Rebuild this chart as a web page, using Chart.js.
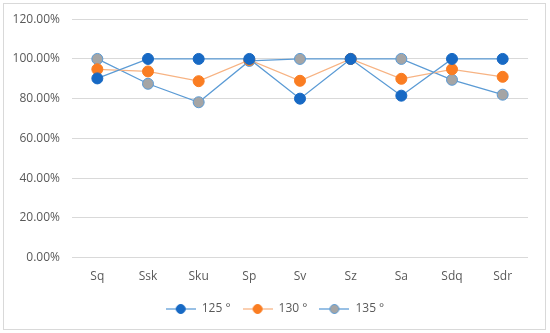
<!DOCTYPE html>
<html>
<head>
<meta charset="utf-8">
<script src="https://cdn.jsdelivr.net/npm/chart.js@4/dist/chart.umd.min.js"></script>
<style>
  html, body { margin: 0; padding: 0; background: #fff; }
  #wrap { width: 550px; height: 333px; }
</style>
</head>
<body>
<div id="wrap"><canvas id="chartAngles"></canvas></div>
<script>
// ── 数据 ──
const categories = ['Sq', 'Ssk', 'Sku', 'Sp', 'Sv', 'Sz', 'Sa', 'Sdq', 'Sdr'];
const seriesNames = ['125 °', '130 °', '135 °'];
const values125 = [0.902, 1.0, 1.0, 1.0, 0.80, 1.0, 0.815, 1.0, 1.0];
const values130 = [0.948, 0.937, 0.888, 0.995, 0.89, 1.0, 0.90, 0.948, 0.91];
const values135 = [1.0, 0.875, 0.782, 0.99, 1.0, 1.0, 1.0, 0.895, 0.82];
const yTicks = [0, 0.2, 0.4, 0.6, 0.8, 1.0, 1.2];

const COLORS = {
  blueLine: '#5B9BD5',
  blueDot: '#1769C4',
  orangeLine: '#F7B383',
  orangeDot: '#FA7D22',
  grayDot: '#A5A5A5',
  grid: '#D9D9D9',
  text: '#595959',
};

// legend swatch: short line with a marker in the middle
function legendSwatch(lineColor, fill, border) {
  const c = document.createElement('canvas');
  c.width = 30; c.height = 12;
  const g = c.getContext('2d');
  g.strokeStyle = lineColor;
  g.lineWidth = 1.25;
  g.beginPath(); g.moveTo(0, 6); g.lineTo(30, 6); g.stroke();
  g.fillStyle = fill;
  g.strokeStyle = border;
  g.lineWidth = 1;
  g.beginPath(); g.arc(15, 6, 4.5, 0, Math.PI * 2); g.fill(); g.stroke();
  return c;
}

const swatches = [
  legendSwatch(COLORS.blueLine, COLORS.blueDot, COLORS.blueDot),
  legendSwatch(COLORS.orangeLine, COLORS.orangeDot, COLORS.orangeDot),
  legendSwatch(COLORS.blueLine, COLORS.grayDot, COLORS.blueLine),
];

// outer frame of the chart
const framePlugin = {
  id: 'frame',
  beforeDraw(chart) {
    const ctx = chart.ctx;
    ctx.save();
    ctx.fillStyle = '#fff';
    ctx.fillRect(0, 0, chart.width, chart.height);
    ctx.strokeStyle = COLORS.grid;
    ctx.lineWidth = 1;
    ctx.strokeRect(3.5, 3.5, 542, 326);
    ctx.restore();
  },
};

function seriesDataset(label, data, line, dot, dotBorder) {
  return {
    label,
    data,
    borderColor: line,
    borderWidth: 1.25,
    backgroundColor: dot,
    pointBackgroundColor: dot,
    pointBorderColor: dotBorder,
    pointBorderWidth: 1,
    pointRadius: 5.5,
    pointHoverRadius: 5.5,
    tension: 0,
    fill: false,
  };
}

new Chart(document.getElementById('chartAngles'), {
  type: 'line',
  data: {
    labels: categories,
    datasets: [
      seriesDataset(seriesNames[0], values125, COLORS.blueLine, COLORS.blueDot, COLORS.blueDot),
      seriesDataset(seriesNames[1], values130, COLORS.orangeLine, COLORS.orangeDot, COLORS.orangeDot),
      seriesDataset(seriesNames[2], values135, COLORS.blueLine, COLORS.grayDot, COLORS.blueLine),
    ],
  },
  options: {
    responsive: true,
    maintainAspectRatio: false,
    animation: false,
    layout: { padding: { top: 19, right: 0, bottom: 8, left: 0 } },
    plugins: {
      legend: {
        display: true,
        position: 'bottom',
        labels: {
          usePointStyle: true,
          pointStyleWidth: 30,
          padding: 12,
          color: COLORS.text,
          font: { family: 'Open Sans', size: 12 },
          generateLabels(chart) {
            return chart.data.datasets.map((ds, i) => ({
              text: ds.label,
              pointStyle: swatches[i],
              fillStyle: ds.pointBackgroundColor,
              strokeStyle: ds.borderColor,
              lineWidth: 0,
              fontColor: COLORS.text,
              hidden: false,
              datasetIndex: i,
            }));
          },
        },
      },
      tooltip: { enabled: false },
    },
    scales: {
      x: {
        offset: true,
        afterFit(scale) { scale.height += 3; },
        grid: { display: false, offset: true },
        border: { display: false },
        ticks: { color: COLORS.text, padding: 4, font: { family: 'Open Sans', size: 12 } },
      },
      y: {
        min: 0,
        max: 1.2,
        afterBuildTicks(scale) { scale.ticks = yTicks.map(v => ({ value: v })); },
        afterFit(scale) { scale.width = 72; },
        grid: { color: COLORS.grid, lineWidth: 1, drawTicks: false },
        border: { display: false },
        ticks: {
          color: COLORS.text,
          padding: 12,
          font: { family: 'Open Sans', size: 12 },
          callback: v => (v * 100).toFixed(2) + '%',
        },
      },
      // empty right-hand margin so the legend centres on the whole frame
      yRight: {
        position: 'right',
        afterFit(scale) { scale.width = 22; },
        grid: { display: false },
        border: { display: false },
        ticks: { display: false },
      },
    },
  },
  plugins: [framePlugin],
});
</script>
</body>
</html>
